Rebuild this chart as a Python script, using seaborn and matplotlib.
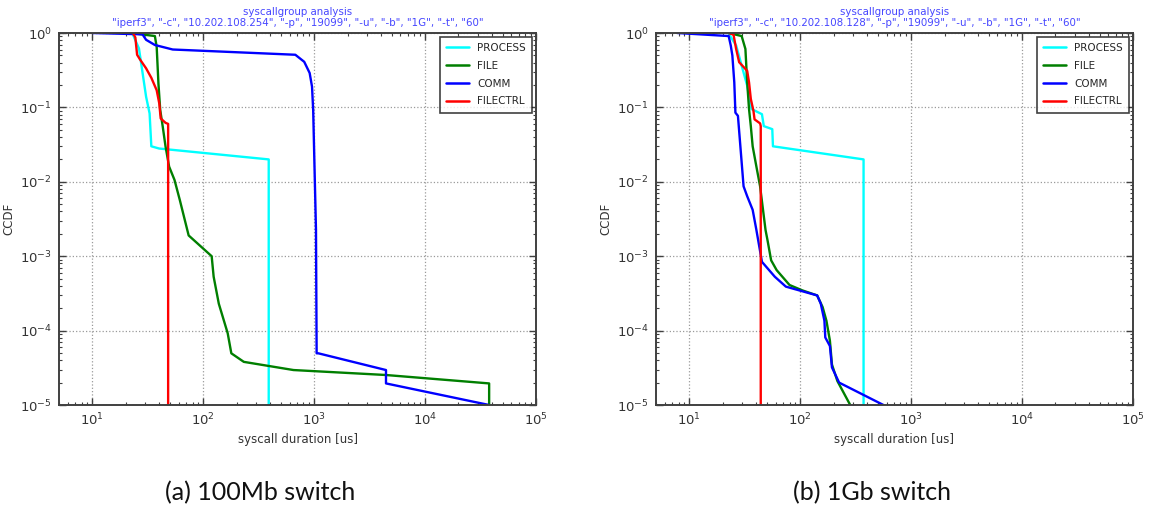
import numpy as np
import pandas as pd
import matplotlib
matplotlib.use("Agg")
import matplotlib.pyplot as plt
import seaborn as sns

# Syscall-group latency CCDFs, iperf3 over a 100Mb and a 1Gb switch
groups = ["PROCESS", "FILE", "COMM", "FILECTRL"]
colors = {"PROCESS": "#00ffff", "FILE": "#007f00", "COMM": "#0000ff", "FILECTRL": "#ff0000"}

# --- (a) 100Mb switch: duration [us] / CCDF ---
a_process_x = [23, 26.3, 30.5, 32.8, 34, 40, 389, 389]
a_process_y = [0.98, 0.62, 0.139, 0.083, 0.030, 0.028, 0.020, 1e-5]
a_file_x = [23.5, 36.6, 38, 39.4, 40.9, 43.1, 45.7, 49.2, 55, 61.4, 73.8, 119, 124,
            138, 166, 179, 232, 651, 4440, 37800, 37800]
a_file_y = [0.99, 0.91, 0.65, 0.21, 0.092, 0.055, 0.0296, 0.016, 0.0106, 0.0057, 0.0019,
            0.001, 0.00053, 0.00023, 9.2e-5, 4.95e-5, 3.8e-5, 2.95e-5, 2.53e-5, 1.95e-5, 1e-5]
a_comm_x = [10, 28.3, 30.5, 36.6, 53, 676, 813, 910, 956, 979, 1038, 1052, 1091,
            4440, 4440, 37800]
a_comm_y = [1, 0.96, 0.81, 0.69, 0.60, 0.51, 0.41, 0.29, 0.19, 0.092, 0.00225,
            4.95e-5, 4.95e-5, 2.95e-5, 1.95e-5, 1e-5]
a_filectrl_x = [23.2, 24.4, 25.3, 26.9, 30.5, 34, 38, 40.1, 41.3, 45.7, 48.2, 48.2]
a_filectrl_y = [1, 0.87, 0.51, 0.44, 0.335, 0.25, 0.17, 0.113, 0.071, 0.062, 0.06, 1e-5]

# --- (b) 1Gb switch: duration [us] / CCDF ---
b_process_x = [22.6, 26.4, 29.6, 33.2, 36.4, 45.1, 46.9, 55.9, 56.7, 372, 372]
b_process_y = [0.98, 0.68, 0.365, 0.196, 0.095, 0.081, 0.056, 0.051, 0.030, 0.020, 1e-5]
b_file_x = [22.6, 29.6, 32, 33.2, 34.5, 35.8, 37.2, 40.2, 43.4, 48.6, 50.6, 54.6, 61.2,
            80, 104.5, 142, 159, 172, 185, 193, 216, 282]
b_file_y = [1, 0.91, 0.61, 0.217, 0.095, 0.056, 0.030, 0.016, 0.0087, 0.00225, 0.00165,
            0.00088, 0.00065, 0.00041, 0.000347, 0.000297, 0.000207, 0.000136, 7.3e-5,
            3.5e-5, 2.1e-5, 1e-5]
b_comm_x = [7.8, 22.6, 23.6, 24.4, 25.4, 26, 27.4, 28.5, 30.8, 33.2, 37.2, 40.2, 45.1,
            58.9, 74.1, 142, 153, 165, 168, 185, 193, 224, 562]
b_comm_y = [1, 0.91, 0.68, 0.50, 0.217, 0.085, 0.077, 0.037, 0.0087, 0.0064, 0.0042,
            0.00225, 0.00084, 0.00053, 0.00039, 0.000297, 0.00023, 0.000136, 8.1e-5,
            6.2e-5, 3.2e-5, 2e-5, 1e-5]
b_filectrl_x = [22.6, 25, 26.4, 28.1, 33.2, 34.5, 35.8, 37.8, 38.7, 43.4, 44, 44]
b_filectrl_y = [1, 0.95, 0.61, 0.405, 0.31, 0.217, 0.13, 0.09, 0.069, 0.061, 0.056, 1e-5]

titles = [
    'syscallgroup analysis\n"iperf3", "-c", "10.202.108.254", "-p", "19099", "-u", "-b", "1G", "-t", "60"',
    'syscallgroup analysis\n"iperf3", "-c", "10.202.108.128", "-p", "19099", "-u", "-b", "1G", "-t", "60"',
]
captions = ["(a) 100Mb switch", "(b) 1Gb switch"]


def long_frame(series):
    rows = []
    for name, (xs, ys) in series.items():
        for i, (x, y) in enumerate(zip(xs, ys)):
            rows.append({"group": name, "order": i, "duration": x, "ccdf": y})
    return pd.DataFrame(rows)


panels = [
    long_frame({"PROCESS": (a_process_x, a_process_y), "FILE": (a_file_x, a_file_y),
                "COMM": (a_comm_x, a_comm_y), "FILECTRL": (a_filectrl_x, a_filectrl_y)}),
    long_frame({"PROCESS": (b_process_x, b_process_y), "FILE": (b_file_x, b_file_y),
                "COMM": (b_comm_x, b_comm_y), "FILECTRL": (b_filectrl_x, b_filectrl_y)}),
]

sns.set_style("white")
plt.rcParams["font.family"] = ["DejaVu Sans"]

fig = plt.figure(figsize=(11.57, 5.11), dpi=100)
ax_w, ax_h = 477 / 1157, 372 / 511
ax_bottom = 1 - 405 / 511
lefts = [59 / 1157, 656 / 1157]
caption_x = [260 / 1157, 872 / 1157]

for k, df in enumerate(panels):
    ax = fig.add_axes([lefts[k], ax_bottom, ax_w, ax_h])
    sns.lineplot(data=df, x="duration", y="ccdf", hue="group", hue_order=groups,
                 palette=colors, estimator=None, sort=False, units="group",
                 linewidth=1.7, ax=ax)
    ax.set_xscale("log")
    ax.set_yscale("log")
    ax.set_xlim(5, 1e5)
    ax.set_ylim(1e-5, 1)
    ax.grid(True, which="major", linestyle=":", color="#9a9a9a", linewidth=0.9)
    ax.grid(False, which="minor")
    for sp in ax.spines.values():
        sp.set_visible(True)
        sp.set_color("#404040")
        sp.set_linewidth(1.4)
    ax.tick_params(which="both", direction="in", top=True, right=True,
                   bottom=True, left=True, color="#404040", labelcolor="#333333")
    ax.tick_params(which="major", length=5, width=1, labelsize=9.5, pad=5)
    ax.tick_params(which="minor", length=2.5, width=0.8)
    ax.yaxis.set_major_locator(matplotlib.ticker.LogLocator(base=10, numticks=10))
    ax.yaxis.set_minor_locator(matplotlib.ticker.LogLocator(base=10, subs=np.arange(2, 10), numticks=10))
    ax.set_xlabel("syscall duration [us]", fontsize=8.5, color="#333333", labelpad=3)
    ax.set_ylabel("CCDF", fontsize=8.5, color="#333333")
    ax.yaxis.set_label_coords(-0.092, 0.5)
    ax.set_title(titles[k], fontsize=7.4, color="#4646ff", pad=5, linespacing=1.1)
    leg = ax.legend(loc="upper right", fontsize=7.5, frameon=True, fancybox=False,
                    edgecolor="#111111", handlelength=2.2, borderaxespad=0.35,
                    labelspacing=0.75, borderpad=0.6)
    leg.get_frame().set_linewidth(1.2)
    for h in leg.get_lines():
        h.set_linewidth(1.8)
    fig.text(caption_x[k], 0.035, captions[k], ha="center", va="center",
             fontsize=18, family=["Lato", "DejaVu Sans"], color="#111111")

fig.savefig("out.png", dpi=100)
